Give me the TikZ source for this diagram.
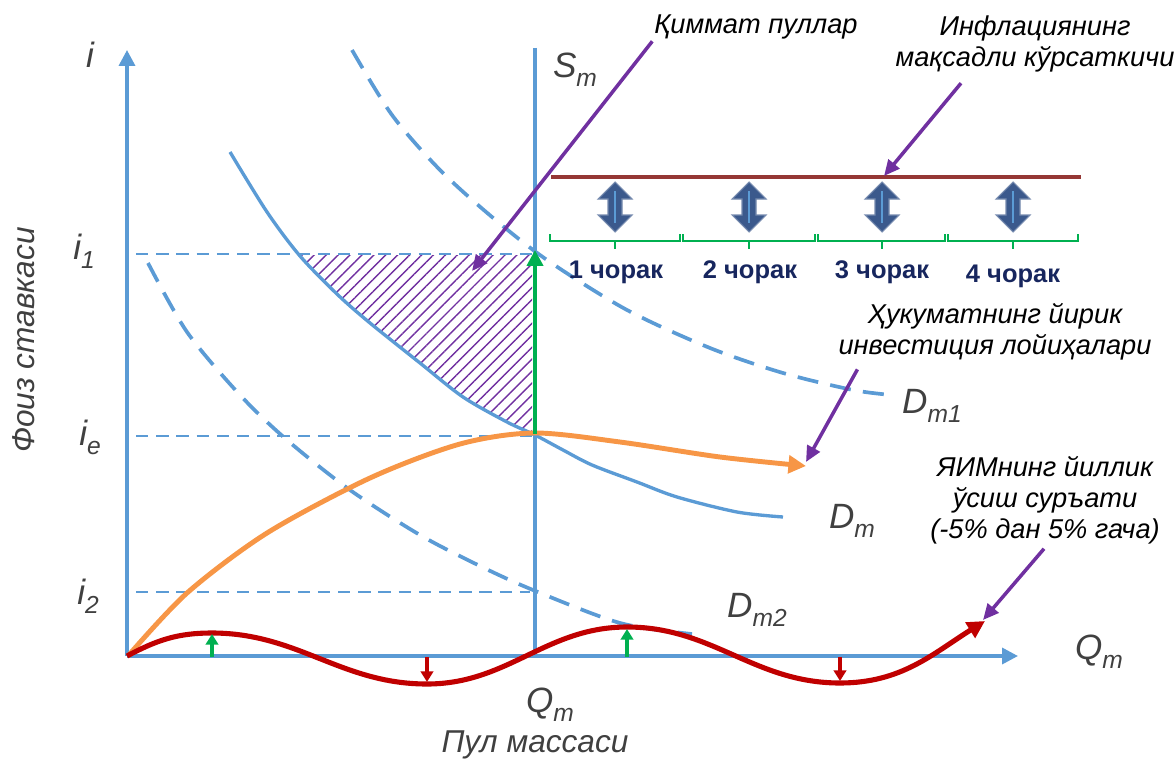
\documentclass[tikz,border=0pt]{standalone}
\usepackage{fontspec}
\setmainfont{Liberation Sans}
\usetikzlibrary{positioning,arrows.meta,patterns.meta}
\definecolor{axisblue}{RGB}{91,155,213}
\definecolor{curveorange}{RGB}{247,150,70}
\definecolor{wavered}{RGB}{192,0,0}
\definecolor{markgreen}{RGB}{0,176,80}
\definecolor{notepurple}{RGB}{112,48,160}
\definecolor{targetred}{RGB}{149,55,53}
\definecolor{blockblue}{RGB}{59,89,140}
\definecolor{labelgrey}{RGB}{64,64,64}
\definecolor{quarternavy}{RGB}{23,38,94}
\newcommand{\lowtext}[1]{\raisebox{-0.25em}{\fontsize{14}{14}\selectfont #1}}
\tikzset{
  axisline/.style={axisblue, line width=2pt},
  axisarrow/.style={axisline, -{Triangle[length=9pt,width=9pt]}},
  demandline/.style={axisblue, line width=1.9pt, line join=round},
  shiftline/.style={axisblue, line width=2.1pt, dash pattern=on 12pt off 7pt},
  levelline/.style={axisblue, line width=1.5pt, dash pattern=on 7pt off 4.5pt},
  calloutarrow/.style={notepurple, line width=2pt, -{Triangle[length=9pt,width=8pt]}},
  riseflag/.style={markgreen, line width=1.9pt, -{Triangle[length=6pt,width=7pt]}},
  fallflag/.style={wavered, line width=1.9pt, -{Triangle[length=6pt,width=7pt]}},
  biglabel/.style={text=labelgrey, font=\fontsize{20}{22}\selectfont\itshape, inner sep=1pt},
  axistitle/.style={text=labelgrey, font=\fontsize{18}{20}\selectfont\itshape, inner sep=1pt},
  notetext/.style={font=\fontsize{15.5}{17.5}\selectfont\itshape, align=center, inner sep=1pt},
  quarterlabel/.style={text=quarternavy, font=\fontsize{14.5}{16}\selectfont\bfseries, inner sep=1pt},
  quarterbrace/.style={markgreen, line width=1.5pt},
  updown/.pic={
    \fill[blockblue, draw=blockblue!70!white, line width=0.6pt] (0,-25) -- (17,-8) -- (7,-8) -- (7,8) -- (17,8) -- (0,25) -- (-17,8) -- (-7,8) -- (-7,-8) -- (-17,-8) -- cycle;
    \draw[axisblue, line width=1.5pt] (0,-16) -- (0,16);
  }
}

\begin{document}
\begin{tikzpicture}[x=0.02cm, y=-0.02cm]
  \useasboundingbox (0,0) rectangle (1175,760);
  % points of the chart
  \coordinate (o) at (127,656);
  \coordinate (ytop) at (127,50);
  \coordinate (xend) at (1018,656);
  \coordinate (smtop) at (535,48);
  \coordinate (smfoot) at (535,656);
  \coordinate (eq) at (535,434);
  \coordinate (ionept) at (535,250);

  % expensive money area
  \path[pattern={Lines[angle=45,distance=4.8pt,line width=0.8pt]}, pattern color=notepurple]
    (300,255) -- (532,255) -- (532,434) -- plot[smooth] coordinates {(507,422) (463,397) (420,363) (370,323) (338,295) (300,256)} -- cycle;

  % rate levels
  \draw[levelline] (136,254) -- (533,254);
  \draw[levelline] (136,436) -- (533,436);
  \draw[levelline] (136,592) -- (530,592);

  % demand curves
  \draw[shiftline] plot[smooth] coordinates {(352,50) (392,115) (440,170) (492,217) (547,260) (627,310) (710,348) (783,373) (853,390) (892,395)};
  \draw[shiftline] plot[smooth] coordinates {(148,263) (187,332) (240,395) (287,440) (350,490) (420,535) (480,566) (533,590) (620,623) (692,634)};
  \draw[demandline] plot[smooth] coordinates {(230,152) (267,212) (300,256) (338,295) (370,323) (420,363) (463,397) (507,422) (535,435) (563,450) (592,465) (637,482) (677,497) (737,512) (783,517)};

  % axes and supply
  \draw[axisarrow] (o) -- (ytop);
  \draw[axisarrow] (o) -- (xend);
  \draw[axisline] (smtop) -- (smfoot);

  % investment curve
  \draw[curveorange, line width=2.8pt, line join=round, -{Triangle[length=10pt,width=10pt]}]
    plot[smooth] coordinates {(128,656) (187,593) (267,533) (370,478) (460,444) (534,433) (620,442) (720,457) (806,466)};

  % growth wave
  \draw[wavered, line width=2.9pt, -{Triangle[length=10pt,width=10pt]}]
    (o) to[out=28,in=180] (212,633) to[out=0,in=180] (427,684) to[out=0,in=180] (627,627)
    to[out=0,in=180] (840,683) to[out=0,in=212] (985,621);
  \draw[riseflag] (212,657) -- (212,634);
  \draw[fallflag] (427,657) -- (427,682);
  \draw[riseflag] (627,657) -- (627,629);
  \draw[fallflag] (840,657) -- (840,681);

  \draw[markgreen, line width=2.3pt, -{Triangle[length=9pt,width=9pt]}] (eq) -- (ionept);

  % inflation target and quarters
  \draw[targetred, line width=1.9pt] (551,177) -- (1081,177);
  \pic at (615,207) {updown};
  \pic at (749,207) {updown};
  \pic at (882,207) {updown};
  \pic at (1013,207) {updown};
  \draw[quarterbrace] (550,234) -- (550,241) -- (680,241) -- (680,234) (615,241) -- (615,249);
  \draw[quarterbrace] (683,234) -- (683,241) -- (815,241) -- (815,234) (749,241) -- (749,249);
  \draw[quarterbrace] (818,234) -- (818,241) -- (945,241) -- (945,234) (882,241) -- (882,249);
  \draw[quarterbrace] (948,234) -- (948,241) -- (1078,241) -- (1078,234) (1013,241) -- (1013,249);
  \node[quarterlabel] (q1) at (616,272) {1 чорак};
  \node[quarterlabel] (q2) at (750,272) {2 чорак};
  \node[quarterlabel] (q3) at (882,272) {3 чорак};
  \node[quarterlabel] (q4) at (1013,276) {4 чорак};

  % axis labels
  \node[biglabel] (ilab) at (90,55) {i};
  \node[biglabel] (ione) at (84,251) {i\lowtext{1}};
  \node[biglabel] (ieq) at (90,437) {i\lowtext{e}};
  \node[biglabel] (itwo) at (88,596) {i\lowtext{2}};
  \node[biglabel] (smlab) at (575,70) {S\lowtext{m}};
  \node[biglabel] (dmone) at (932,406) {D\lowtext{m1}};
  \node[biglabel] (dmlab) at (852,521) {D\lowtext{m}};
  \node[biglabel] (dmtwo) at (757,610) {D\lowtext{m2}};
  \node[biglabel] (qaxis) at (1099,652) {Q\lowtext{m}};
  \node[biglabel] (qeq) at (550,705) {Q\lowtext{m}};
  \node[axistitle] (xtitle) at (535,745) {Пул массаси};
  \node[axistitle, rotate=90] (ytitle) at (24,340) {Фоиз ставкаси};

  % callouts
  \node[notetext] (dearnote) at (756,27) {Қиммат пуллар};
  \node[notetext] (targetnote) at (1035,44) {Инфлациянинг\\мақсадли кўрсаткичи};
  \node[notetext] (investnote) at (995,332) {Ҳукуматнинг йирик\\инвестиция лойиҳалари};
  \node[notetext] (gdpnote) at (1045,500) {ЯИМнинг йиллик\\ўсиш суръати\\(-5\% дан 5\% гача)};
  \coordinate (deartip) at (472,271);
  \coordinate (targettip) at (884,176);
  \coordinate (investtip) at (806,462);
  \coordinate (gdptip) at (983,620);
  \draw[calloutarrow] (dearnote.south west) -- (deartip);
  \draw[calloutarrow] (targetnote.south) ++(-74,9) -- (targettip);
  \draw[calloutarrow] (investnote.south west) ++(21,7) -- (investtip);
  \draw[calloutarrow] (gdpnote.south) ++(-1,3) -- (gdptip);
\end{tikzpicture}
\end{document}
